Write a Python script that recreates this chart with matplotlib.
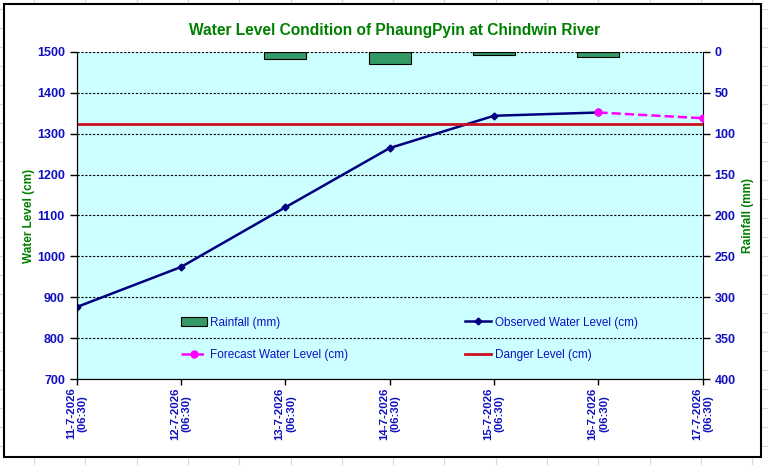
import matplotlib.pyplot as plt
from matplotlib.patches import Rectangle
from matplotlib.lines import Line2D
import numpy as np

plt.rcParams['font.family'] = ['Liberation Sans', 'DejaVu Sans']

dates = ['11-7-2026\n(06:30)', '12-7-2026\n(06:30)', '13-7-2026\n(06:30)',
         '14-7-2026\n(06:30)', '15-7-2026\n(06:30)', '16-7-2026\n(06:30)',
         '17-7-2026\n(06:30)']
observed = [876, 974, 1120, 1265, 1344, 1352, np.nan]
forecast = [np.nan, np.nan, np.nan, np.nan, np.nan, 1352, 1338]
rainfall = [np.nan, np.nan, 8.6, 14.7, 3.7, 6.1, np.nan]
danger = 1325

W, H = 768, 465
fig = plt.figure(figsize=(W / 100, H / 100), dpi=100)

# excel sheet grid behind the chart
for gx in np.arange(34, W, 51.3):
    fig.add_artist(Line2D([gx / W, gx / W], [0, 1], color='#d8d8d8', lw=0.8, zorder=-2))
for gy in np.arange(9, H, 19):
    fig.add_artist(Line2D([0, 1], [1 - gy / H, 1 - gy / H], color='#d8d8d8', lw=0.8, zorder=-2))
fig.add_artist(Rectangle((4 / W, 1 - 456.7 / H), (760.7 - 4) / W, (456.7 - 4) / H,
                         facecolor='white', edgecolor='black', lw=1.5, zorder=-1))

left, right, top, bottom = 76.7, 702.7, 52, 379
ax = fig.add_axes([left / W, 1 - bottom / H, (right - left) / W, (bottom - top) / H])
ax2 = ax.twinx()
ax2.set_zorder(1)
ax.set_zorder(2)
ax.patch.set_visible(False)
ax2.patch.set_visible(True)
ax2.patch.set_facecolor('#CCFFFF')

x = np.arange(len(dates))
blue = '#1010C0'
green = '#008000'

bars = ax2.bar(x, rainfall, width=0.4, color='#339966', edgecolor='black', lw=0.8,
               label='Rainfall (mm)')
ax2.set_ylim(400, 0)
ax2.set_yticks(np.arange(0, 401, 50))

l_obs, = ax.plot(x, observed, color='#000080', lw=1.8, marker='D', ms=3.5,
                 label='Observed Water Level (cm)')
l_fc, = ax.plot(x, forecast, color='#FF00FF', lw=1.8, ls='--', marker='o', ms=5,
                label='Forecast Water Level (cm)')
l_dg = ax.axhline(danger, color='#CC1020', lw=2, label='Danger Level (cm)')

ax.set_xlim(0, 6)
ax.set_ylim(700, 1500)
ax.set_yticks(np.arange(700, 1501, 100))
ax.yaxis.grid(True, color='black', ls=(0, (2, 1.5)), lw=0.8)
ax.set_xticks(x)
ax.set_xticklabels(dates, rotation=90, fontsize=8.2, color=blue, fontweight='bold',
                   ha='center', va='top', multialignment='center')

for a in (ax, ax2):
    a.spines['top'].set_visible(False)
    a.tick_params(axis='y', labelsize=9, labelcolor=blue, length=5, width=1)
    a.tick_params(axis='x', length=4, width=1, pad=2)
    for t in a.get_yticklabels():
        t.set_fontweight('bold')
ax.spines['right'].set_visible(False)

ax.set_ylabel('Water Level (cm)', color=green, fontsize=8.5, fontweight='bold')
ax.yaxis.set_label_coords(-0.066, 0.5)
ax2.set_ylabel('Rainfall (mm)', color=green, fontsize=8.5, fontweight='bold')
ax2.yaxis.set_label_coords(1.063, 0.5)

fig.text(395 / W, 1 - 30 / H, 'Water Level Condition of PhaungPyin at Chindwin River',
         ha='center', va='center', color=green, fontsize=11.2, fontweight='bold')

leg = ax.legend([bars, l_fc, l_obs, l_dg],
                ['Rainfall (mm)', 'Forecast Water Level (cm)',
                 'Observed Water Level (cm)', 'Danger Level (cm)'],
                ncol=2, frameon=False, fontsize=8.5, labelspacing=1.75,
                columnspacing=9.9, handlelength=2.2, handletextpad=0.3,
                loc='upper left', bbox_to_anchor=((170 - left) / (right - left),
                                                  (bottom - 306) / (bottom - top)))
for t in leg.get_texts():
    t.set_color(blue)

fig.savefig('out.png', dpi=100)
